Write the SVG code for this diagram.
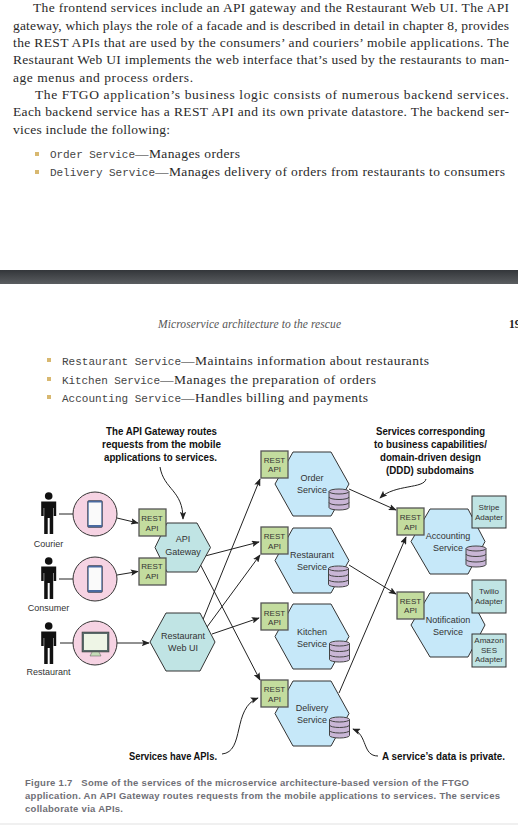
<svg xmlns="http://www.w3.org/2000/svg" width="518" height="825" viewBox="0 0 518 825">
<style>
.body{font-family:"Liberation Serif",serif;font-size:13.5px;fill:#2a2a2a}
.mono{font-family:"Liberation Mono",monospace;font-size:11px;fill:#444}
.lbl{font-family:"Liberation Sans",sans-serif;font-size:9px;fill:#333;text-anchor:middle}
.small{font-size:8px}
.note{font-family:"Liberation Sans",sans-serif;font-weight:bold;font-size:11.500px;fill:#111}
.cap{font-family:"Liberation Sans",sans-serif;font-weight:bold;font-size:9.500px;fill:#6f6f76}
.hdr{font-family:"Liberation Serif",serif;font-style:italic;font-size:11.500px;fill:#555}
.bul{fill:#d8b870}
.gw{fill:#c0e4e4;stroke:#333;stroke-width:1}
.svc{fill:#c6e8f9;stroke:#333;stroke-width:1}
.rest{fill:#c3dc9e;stroke:#555;stroke-width:1.300}
.ad{fill:#c0e4e4;stroke:#333;stroke-width:1}
.db{fill:#c9b6d6;stroke:#444;stroke-width:1}
.circ{fill:#f6d3e3;stroke:#333;stroke-width:1}
.ln{fill:none;stroke:#222;stroke-width:1}
.arr{fill:none;stroke:#222;stroke-width:1;marker-end:url(#ah)}
</style>
<defs>
<marker id="ah" viewBox="0 0 10 8" refX="9" refY="4" markerWidth="8" markerHeight="6.400" markerUnits="userSpaceOnUse" orient="auto"><path d="M0 0L10 4L0 8L2 4Z" fill="#222"/></marker>
<linearGradient id="band" x1="0" y1="0" x2="0" y2="1"><stop offset="0" stop-color="#33363a"/><stop offset="1" stop-color="#5a5d60"/></linearGradient>
<g id="person"><circle cx="0" cy="4" r="3.800" fill="#111"/><path d="M-7.500 9.500H7.500V24H5V16H4.500V42H1V26H-1V42H-4.500V16H-5V24H-7.500Z" fill="#111"/></g>
<g id="db"><path class="db" d="M-10 2.500V18.500A10 2.500 0 0 0 10 18.500V2.500A10 2.500 0 0 0 -10 2.500Z"/><path d="M-10 2.500A10 2.500 0 0 0 10 2.500M-10 8A10 2.500 0 0 0 10 8M-10 13.500A10 2.500 0 0 0 10 13.500" fill="none" stroke="#444"/></g>
<g id="phone"><rect x="-7.500" y="-13.500" width="15" height="27" rx="1.500" fill="#4a6aa0" stroke="#333" stroke-width=".5"/><rect x="-6.300" y="-11.500" width="12.600" height="22.500" fill="#fafafa"/></g>
</defs>
<rect width="518" height="825" fill="#fff"/>

<g id="page-top">
<text class="body" x="33" y="12" textLength="476">The frontend services include an API gateway and the Restaurant Web UI. The API</text>
<text class="body" x="13" y="30" textLength="496">gateway, which plays the role of a facade and is described in detail in chapter 8, provides</text>
<text class="body" x="13" y="47" textLength="496">the REST APIs that are used by the consumers’ and couriers’ mobile applications. The</text>
<text class="body" x="13" y="64" textLength="496">Restaurant Web UI implements the web interface that’s used by the restaurants to man-</text>
<text class="body" x="13" y="82" textLength="180">age menus and process orders.</text>
<text class="body" x="35" y="99" textLength="474">The FTGO application’s business logic consists of numerous backend services.</text>
<text class="body" x="13" y="116" textLength="496">Each backend service has a REST API and its own private datastore. The backend ser-</text>
<text class="body" x="13" y="134" textLength="157">vices include the following:</text>
<rect class="bul" x="35" y="152" width="4" height="4"/>
<text class="mono" x="50" y="158" textLength="85">Order Service</text>
<text class="body" x="135" y="158" textLength="105">—Manages orders</text>
<rect class="bul" x="35" y="170" width="4" height="4"/>
<text class="mono" x="50" y="176" textLength="105">Delivery Service</text>
<text class="body" x="155" y="176" textLength="350">—Manages delivery of orders from restaurants to consumers</text>
</g>

<rect id="page-gap" x="0" y="270" width="518" height="14" fill="url(#band)"/>

<g id="page-bottom">
<text class="hdr" x="158" y="328" textLength="183">Microservice architecture to the rescue</text>
<text x="509" y="328" font-family="Liberation Serif,serif" font-weight="bold" font-size="11.500" fill="#222">19</text>
<rect class="bul" x="47" y="358" width="4" height="4"/>
<text class="mono" x="62" y="365" textLength="119">Restaurant Service</text>
<text class="body" x="181" y="365" textLength="248">—Maintains information about restaurants</text>
<rect class="bul" x="47" y="377" width="4" height="4"/>
<text class="mono" x="62" y="384" textLength="98">Kitchen Service</text>
<text class="body" x="160" y="384" textLength="216">—Manages the preparation of orders</text>
<rect class="bul" x="47" y="395" width="4" height="4"/>
<text class="mono" x="62" y="402" textLength="119">Accounting Service</text>
<text class="body" x="181" y="402" textLength="187">—Handles billing and payments</text>
</g>

<g id="connectors">
<path class="ln" d="M59 514H73M59 579H73M60 643H73"/>
<path class="arr" d="M117 518L138 523"/>
<path class="arr" d="M117 575L138 571.500"/>
<path class="arr" d="M117 643H149"/>
<path class="arr" d="M205 556L259 542"/>
<path class="arr" d="M199 562L260 680"/>
<path class="arr" d="M202 622L260 479"/>
<path class="arr" d="M207 627L260 555"/>
<path class="arr" d="M212 634L259 618"/>
<path class="arr" d="M349 489L396 510"/>
<path class="arr" d="M349 565L396 594"/>
<path class="arr" d="M339 693L406 537"/>
<path class="arr" d="M160 467C164 490 183 490 183 519"/>
<path class="arr" d="M426 479C424 489 395 484 380 498"/>
<path class="arr" d="M378 756C362 756 368 735 353 729"/>
<path class="arr" d="M222 754C245 752 232 708 258 698"/>
</g>

<g id="courier"><use href="#person" x="48.700" y="492"/><text class="lbl" x="48.500" y="547">Courier</text></g>
<g id="consumer"><use href="#person" x="48.700" y="557"/><text class="lbl" x="48.500" y="611">Consumer</text></g>
<g id="restaurant"><use href="#person" x="48.700" y="622"/><text class="lbl" x="48.500" y="675">Restaurant</text></g>
<g id="courier-phone"><circle class="circ" cx="95" cy="514" r="22"/><use href="#phone" x="95" y="514"/></g>
<g id="consumer-phone"><circle class="circ" cx="95" cy="579" r="22"/><use href="#phone" x="95" y="579"/></g>
<g id="restaurant-monitor"><circle class="circ" cx="95" cy="643" r="22"/><rect x="82" y="632" width="27" height="20" fill="#5a6a6a" stroke="#333" stroke-width=".5"/><rect x="84" y="634" width="23" height="16" fill="#eef5e6"/><path d="M92 652H99L101 656H90Z" fill="#c5dcb8" stroke="#555" stroke-width=".5"/></g>

<g id="api-gateway"><polygon class="gw" points="155,547.500 167,523 197,523 210.500,547.500 197,572 167,572"/><text class="lbl" x="183" y="542">API</text><text class="lbl" x="183" y="555">Gateway</text></g>
<g id="rest-gw-1"><rect class="rest" x="139" y="509" width="27" height="27"/><text class="lbl small" x="152" y="521">REST</text><text class="lbl small" x="152" y="531">API</text></g>
<g id="rest-gw-2"><rect class="rest" x="139" y="558" width="27" height="27"/><text class="lbl small" x="152" y="569">REST</text><text class="lbl small" x="152" y="579">API</text></g>
<g id="restaurant-web-ui"><polygon class="gw" points="150,642 166,613 200,613 215,642 200,671 166,671"/><text class="lbl" x="183" y="639">Restaurant</text><text class="lbl" x="183" y="651">Web UI</text></g>

<g id="order-service"><polygon class="svc" points="275,484 293,452 331,452 349,484 331,516 293,516"/><rect class="rest" x="261" y="451" width="27" height="27"/><text class="lbl small" x="274.500" y="463">REST</text><text class="lbl small" x="274.500" y="472">API</text><text class="lbl" x="312" y="481">Order</text><text class="lbl" x="312" y="493">Service</text><use href="#db" x="339" y="489"/></g>
<g id="restaurant-service"><polygon class="svc" points="275,560.500 293,528 331,528 349,560.500 331,593 293,593"/><rect class="rest" x="261" y="527" width="27" height="27"/><text class="lbl small" x="274.500" y="539">REST</text><text class="lbl small" x="274.500" y="549">API</text><text class="lbl" x="312" y="558">Restaurant</text><text class="lbl" x="312" y="570">Service</text><use href="#db" x="338.500" y="566"/></g>
<g id="kitchen-service"><polygon class="svc" points="275,636.500 293,604 331,604 349,636.500 331,669 293,669"/><rect class="rest" x="261" y="603" width="27" height="27"/><text class="lbl small" x="274.500" y="616">REST</text><text class="lbl small" x="274.500" y="625">API</text><text class="lbl" x="312" y="635">Kitchen</text><text class="lbl" x="312" y="647">Service</text><use href="#db" x="339.500" y="641"/></g>
<g id="delivery-service"><polygon class="svc" points="275,713.500 293,681 331,681 349,713.500 331,746 293,746"/><rect class="rest" x="261" y="680" width="27" height="27"/><text class="lbl small" x="274.500" y="692">REST</text><text class="lbl small" x="274.500" y="702">API</text><text class="lbl" x="312" y="711">Delivery</text><text class="lbl" x="312" y="723">Service</text><use href="#db" x="339.500" y="717"/></g>

<g id="accounting-service"><polygon class="svc" points="411,541.500 430,509 468,509 485,541.500 468,574 430,574"/><rect class="rest" x="397" y="508" width="27" height="27"/><text class="lbl small" x="410.500" y="520">REST</text><text class="lbl small" x="410.500" y="530">API</text><text class="lbl" x="448" y="539">Accounting</text><text class="lbl" x="448" y="551">Service</text><use href="#db" x="476" y="546"/></g>
<g id="notification-service"><polygon class="svc" points="411,625 430,593 468,593 485,625 468,657 430,657"/><rect class="rest" x="397" y="592" width="27" height="27"/><text class="lbl small" x="410.500" y="604">REST</text><text class="lbl small" x="410.500" y="613">API</text><text class="lbl" x="448" y="623">Notification</text><text class="lbl" x="448" y="635">Service</text></g>
<g id="stripe-adapter"><rect class="ad" x="472" y="496" width="34" height="32"/><text class="lbl small" x="489" y="510">Stripe</text><text class="lbl small" x="489" y="520">Adapter</text></g>
<g id="twilio-adapter"><rect class="ad" x="472" y="580" width="34" height="33"/><text class="lbl small" x="489" y="594">Twilio</text><text class="lbl small" x="489" y="604">Adapter</text></g>
<g id="ses-adapter"><rect class="ad" x="472" y="634" width="34" height="33"/><text class="lbl small" x="489" y="643">Amazon</text><text class="lbl small" x="489" y="653">SES</text><text class="lbl small" x="489" y="662">Adapter</text></g>

<g id="annotations">
<text class="note" x="106" y="435" textLength="111" lengthAdjust="spacingAndGlyphs">The API Gateway routes</text>
<text class="note" x="102" y="448" textLength="119" lengthAdjust="spacingAndGlyphs">requests from the mobile</text>
<text class="note" x="104" y="461" textLength="113" lengthAdjust="spacingAndGlyphs">applications to services.</text>
<text class="note" x="376" y="435" textLength="109" lengthAdjust="spacingAndGlyphs">Services corresponding</text>
<text class="note" x="374" y="448" textLength="113" lengthAdjust="spacingAndGlyphs">to business capabilities/</text>
<text class="note" x="380" y="461" textLength="101" lengthAdjust="spacingAndGlyphs">domain-driven design</text>
<text class="note" x="386" y="474" textLength="88" lengthAdjust="spacingAndGlyphs">(DDD) subdomains</text>
<text class="note" x="129" y="760" textLength="88" lengthAdjust="spacingAndGlyphs">Services have APIs.</text>
<text class="note" style="font-size:10.500px" x="382" y="760" textLength="123" lengthAdjust="spacingAndGlyphs">A service’s data is private.</text>
</g>

<g id="caption">
<text class="cap" x="25" y="786" textLength="444" xml:space="preserve">Figure 1.7   Some of the services of the microservice architecture-based version of the FTGO</text>
<text class="cap" x="25" y="799" textLength="475">application. An API Gateway routes requests from the mobile applications to services. The services</text>
<text class="cap" x="25" y="812" textLength="98">collaborate via APIs.</text>
</g>
<rect x="0" y="823" width="518" height="2" fill="#f0f0f0"/>
</svg>
